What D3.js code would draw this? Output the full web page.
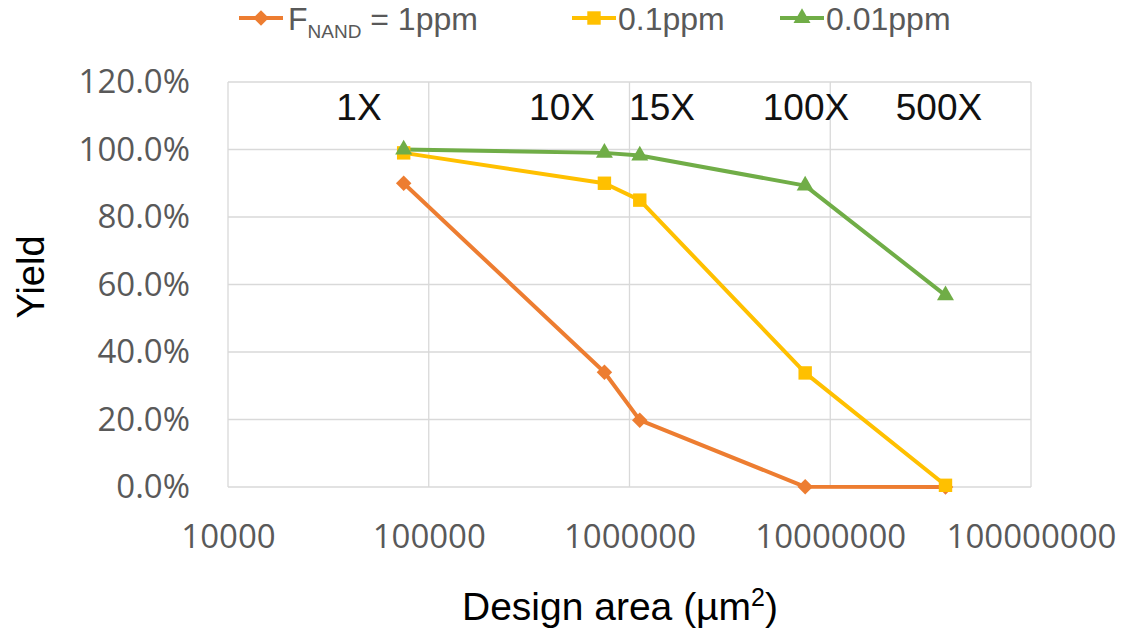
<!DOCTYPE html>
<html>
<head>
<meta charset="utf-8">
<script src="https://cdn.jsdelivr.net/npm/d3@7.9.0/dist/d3.min.js"></script>
<style>
  body { margin: 0; background: #fff; }
  svg { display: block; font-family: "Liberation Sans", Arial, sans-serif; }
</style>
</head>
<body>
<div id="chart"></div>
<script>
const areas = [75000, 750000, 1125000, 7500000, 37500000];
const scaleLabels = ['1X', '10X', '15X', '100X', '500X'];
const yield1ppm = [0.90, 0.34, 0.198, 0.0005, 0.0];
const yield01ppm = [0.99, 0.90, 0.85, 0.338, 0.005];
const yield001ppm = [1.0, 0.99, 0.982, 0.893, 0.568];
const xTicks = [1e4, 1e5, 1e6, 1e7, 1e8];
const yTicks = [0, 0.2, 0.4, 0.6, 0.8, 1.0, 1.2];

const diamond = { draw(ctx, size) { const r = Math.sqrt(size) / 2 * Math.SQRT2; ctx.moveTo(0, -r); ctx.lineTo(r, 0); ctx.lineTo(0, r); ctx.lineTo(-r, 0); ctx.closePath(); } };

const series = [
  { name: '1ppm', values: yield1ppm, color: '#ED7D31', shape: diamond, size: 120 },
  { name: '0.1ppm', values: yield01ppm, color: '#FFC000', shape: d3.symbolSquare, size: 180 },
  { name: '0.01ppm', values: yield001ppm, color: '#70AD47', shape: d3.symbolTriangle, size: 125 }
];

const width = 1127, height = 635;
const margin = { top: 82, right: 96, bottom: 148, left: 228 };
const tickFont = '"Open Sans", "Liberation Sans", sans-serif';

const svg = d3.select('#chart').append('svg')
  .attr('width', width)
  .attr('height', height);

const x = d3.scaleLog()
  .domain([1e4, 1e8])
  .range([margin.left, width - margin.right]);
const y = d3.scaleLinear()
  .domain([0, 1.2])
  .range([height - margin.bottom, margin.top]);

// gridlines
svg.append('g')
  .selectAll('line')
  .data(yTicks)
  .join('line')
    .attr('x1', margin.left).attr('x2', width - margin.right)
    .attr('y1', d => y(d)).attr('y2', d => y(d))
    .attr('stroke', '#d9d9d9').attr('stroke-width', 1.3);

svg.append('g')
  .selectAll('line')
  .data(xTicks)
  .join('line')
    .attr('x1', d => x(d)).attr('x2', d => x(d))
    .attr('y1', margin.top).attr('y2', height - margin.bottom)
    .attr('stroke', '#d9d9d9').attr('stroke-width', 1.3);

// tick labels
const yAxis = d3.axisLeft(y).tickValues(yTicks).tickFormat(d3.format('.1%')).tickSize(0).tickPadding(38);
svg.append('g')
  .attr('transform', `translate(${margin.left},0)`)
  .call(yAxis)
  .call(g => g.select('.domain').remove())
  .call(g => g.selectAll('text')
    .attr('fill', '#595959').attr('font-size', 33).attr('font-family', tickFont));

const xAxis = d3.axisBottom(x).tickValues(xTicks).tickFormat(d3.format('d')).tickSize(0).tickPadding(38);
svg.append('g')
  .attr('transform', `translate(0,${height - margin.bottom})`)
  .call(xAxis)
  .call(g => g.select('.domain').remove())
  .call(g => g.selectAll('text')
    .attr('fill', '#595959').attr('font-size', 33).attr('font-family', tickFont));

// axis titles
svg.append('text')
  .attr('x', 620).attr('y', 620)
  .attr('text-anchor', 'middle')
  .attr('font-size', 39)
  .attr('fill', '#000')
  .html('Design area (µm<tspan dy="-14" font-size="25">2</tspan><tspan dy="14">)</tspan>');

svg.append('text')
  .attr('transform', `translate(44,277) rotate(-90)`)
  .attr('text-anchor', 'middle')
  .attr('font-size', 38)
  .attr('fill', '#000')
  .text('Yield');

// lines and markers
const line = d3.line()
  .x((d, i) => x(areas[i]))
  .y(d => y(d));

series.forEach(s => {
  svg.append('path')
    .datum(s.values)
    .attr('d', line)
    .attr('fill', 'none')
    .attr('stroke', s.color)
    .attr('stroke-width', 4)
    .attr('stroke-linejoin', 'round');
});

series.forEach(s => {
  svg.append('g')
    .selectAll('path')
    .data(s.values)
    .join('path')
      .attr('transform', (d, i) => `translate(${x(areas[i])},${y(d)})`)
      .attr('d', d3.symbol(s.shape, s.size))
      .attr('fill', s.color);
});

// scale labels
const labelX = [359, 562, 662, 806, 939];
svg.append('g')
  .selectAll('text')
  .data(scaleLabels)
  .join('text')
    .attr('x', (d, i) => labelX[i])
    .attr('y', 120)
    .attr('text-anchor', 'middle')
    .attr('font-size', 37)
    .attr('fill', '#111')
    .text(d => d);

// legend
const legend = [
  { lx: 239, tx: 288, s: series[0] },
  { lx: 572, tx: 618, s: series[1] },
  { lx: 780, tx: 826, s: series[2] }
];
const ly = 18;
legend.forEach(l => {
  const g = svg.append('g');
  g.append('line')
    .attr('x1', l.lx).attr('x2', l.lx + 44)
    .attr('y1', ly).attr('y2', ly)
    .attr('stroke', l.s.color).attr('stroke-width', 4);
  g.append('path')
    .attr('transform', `translate(${l.lx + 22},${ly})`)
    .attr('d', d3.symbol(l.s.shape, l.s.size))
    .attr('fill', l.s.color);
  const t = g.append('text')
    .attr('x', l.tx).attr('y', 30)
    .attr('font-size', 32)
    .attr('fill', '#595959');
  if (l.s === series[0]) {
    t.html('F<tspan dy="8" font-size="19">NAND</tspan><tspan dy="-8"> = 1ppm</tspan>');
  } else {
    t.text(l.s.name);
  }
});
</script>
</body>
</html>
